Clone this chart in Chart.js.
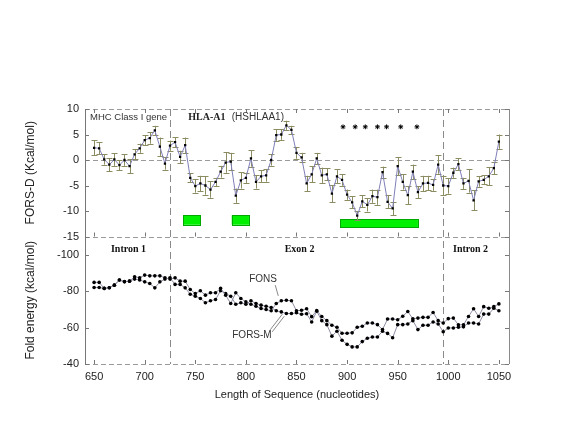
<!DOCTYPE html>
<html>
<head>
<meta charset="utf-8">
<script src="https://cdn.jsdelivr.net/npm/chart.js@4.4.0/dist/chart.umd.min.js"></script>
<style>
  html, body { margin: 0; padding: 0; background: #fff; }
  #wrap { width: 568px; height: 434px; }
</style>
</head>
<body>
<div id="wrap"><canvas id="chart" width="568" height="434"></canvas></div>
<script>
// nucleotide positions (one point every 5 nt)
const positions = [
  650, 655, 660, 665, 670, 675, 680, 685, 690, 695,
  700, 705, 710, 715, 720, 725, 730, 735, 740, 745,
  750, 755, 760, 765, 770, 775, 780, 785, 790, 795,
  800, 805, 810, 815, 820, 825, 830, 835, 840, 845,
  850, 855, 860, 865, 870, 875, 880, 885, 890, 895,
  900, 905, 910, 915, 920, 925, 930, 935, 940, 945,
  950, 955, 960, 965, 970, 975, 980, 985, 990, 995,
  1000, 1005, 1010, 1015, 1020, 1025, 1030, 1035, 1040, 1045,
  1050
];

// FORS-D (Kcal/mol), top panel
const forsD = [
  2.4, 2.3, 0.1, -0.9, 0.1, -1.0, 0.0, -1.2, 1.1, 2.3,
  3.9, 4.3, 5.8, 2.6, -0.7, 2.8, 3.5, 0.6, 2.9, -3.5,
  -5.1, -4.6, -5.0, -5.8, -4.3, -2.3, -0.5, -0.3, -7.0, -4.0,
  -3.5, 0.3, -4.3, -3.2, -3.0, 0.0, 4.9, 5.0, 6.8, 5.9,
  1.4, 0.5, -4.6, -2.8, 0.3, -3.0, -2.8, -6.6, -3.2, -3.9,
  -6.8, -8.3, -10.9, -8.1, -8.8, -7.1, -7.3, -2.4, -8.2, -9.5,
  -1.2, -4.3, -6.9, -2.3, -6.3, -4.6, -4.5, -4.9, -0.9, -5.0,
  -5.1, -2.5, -0.8, -4.6, -4.1, -7.9, -4.2, -3.9, -3.2, -1.6,
  3.6
];
const forsDErr = [
  1.5, 1.15, 1.0, 1.3, 1.25, 1.0, 1.15, 1.4, 1.0, 0.9,
  1.0, 1.1, 0.9, 1.8, 1.2, 1.0, 1.0, 1.2, 1.5, 0.9,
  1.3, 1.5, 1.8, 1.6, 0.8, 1.15, 2.0, 1.7, 1.4, 1.6,
  1.0, 1.6, 1.3, 1.15, 1.25, 1.1, 1.15, 1.05, 0.9, 0.8,
  1.15, 0.9, 1.5, 1.6, 1.1, 1.5, 1.15, 1.7, 1.4, 1.15,
  1.0, 1.15, 0.9, 1.2, 1.3, 1.3, 1.5, 1.1, 1.25, 1.3,
  1.8, 1.5, 1.8, 1.4, 1.15, 1.5, 1.4, 1.15, 1.8, 1.9,
  1.5, 1.0, 1.15, 1.1, 2.3, 2.0, 1.05, 0.9, 1.75, 1.2,
  1.4
];

// fold energies (kcal/mol), bottom panel
const fons = [
  -84.8, -84.8, -81.5, -81.9, -83.3, -86.1, -85.1, -85.5, -87.9, -87.3,
  -88.8, -88.4, -88.4, -88.4, -87.3, -86.6, -87.3, -85.5, -85.5, -80.9,
  -78.7, -80.2, -77.8, -79.1, -79.1, -81.5, -77.8, -73.2, -79.1, -76.0,
  -74.1, -72.8, -71.7, -70.5, -69.9, -69.2, -73.2, -74.7, -75.0, -74.7,
  -69.2, -69.5, -70.3, -66.0, -69.3, -66.1, -63.8, -61.3, -60.2, -56.9,
  -56.9, -57.1, -60.2, -60.7, -62.5, -62.5, -61.6, -58.9, -64.7, -64.7,
  -64.3, -66.2, -68.8, -64.8, -65.2, -65.6, -65.6, -68.3, -63.8, -62.5,
  -64.9, -65.2, -61.5, -61.5, -66.1, -70.3, -66.1, -71.5, -70.6, -71.5,
  -73.0
];
const forsM = [
  -82.0, -82.0, -81.5, -81.9, -83.3, -86.1, -85.3, -85.5, -86.6, -86.1,
  -85.1, -84.2, -81.8, -85.1, -86.6, -87.3, -83.7, -83.7, -81.8, -78.3,
  -77.2, -76.0, -73.6, -74.7, -75.4, -80.2, -78.7, -77.2, -72.8, -73.6,
  -72.8, -74.7, -73.2, -72.3, -71.7, -71.0, -69.2, -68.6, -67.7, -67.7,
  -68.1, -67.3, -67.6, -63.1, -69.0, -63.8, -61.6, -55.3, -58.0, -53.0,
  -50.8, -49.4, -49.4, -52.3, -54.1, -54.8, -54.8, -58.0, -56.8, -54.4,
  -61.6, -61.6, -62.0, -63.8, -58.9, -61.3, -61.3, -63.1, -62.0, -57.7,
  -59.8, -59.8, -60.2, -60.4, -62.5, -62.5, -62.0, -67.4, -67.4, -70.6,
  -69.2
];

// significance stars
const starPositions = [896, 908, 918, 930, 939, 953, 969];
const starLevel = 6.5;

// green boxes (nt start/end, FORS-D top/bottom)
const boxStarts = [738, 786, 893];
const boxEnds = [755, 803, 970];
const boxTops = [-10.8, -10.8, -11.6];
const boxBottoms = [-12.7, -12.7, -13.2];

// intron/exon boundaries
const boundaries = [725, 995];

// tick labels
const xTicks = [650, 700, 750, 800, 850, 900, 950, 1000, 1050];
const topTicks = [10, 5, 0, -5, -10, -15];
const bottomTicks = [-100, -80, -60, -40];

const SANS = "'Liberation Sans', Arial, sans-serif";
const SERIF = "'Liberation Serif', 'Times New Roman', serif";

function toPoints(ys) {
  return positions.map((p, i) => ({ x: p, y: ys[i] }));
}

const decor = {
  id: 'decor',
  beforeDatasetsDraw(chart) {
    const { ctx, chartArea: a, scales } = chart;
    const x = scales.x, yTop = scales.yTop, yBot = scales.yBot;
    ctx.save();

    // dashed frame / zero line
    ctx.strokeStyle = '#9a9a9a';
    ctx.lineWidth = 1;
    ctx.setLineDash([5, 3]);
    [yTop.top, yTop.getPixelForValue(0), yTop.bottom, yBot.bottom].forEach(py => {
      py = Math.round(py) + 0.5;
      ctx.beginPath();
      ctx.moveTo(a.left, py);
      ctx.lineTo(a.right, py);
      ctx.stroke();
    });

    // boundaries
    ctx.strokeStyle = '#8a8a8a';
    ctx.setLineDash([7, 4]);
    boundaries.forEach(b => {
      const px = Math.round(x.getPixelForValue(b)) + 0.5;
      ctx.beginPath();
      ctx.moveTo(px, a.top);
      ctx.lineTo(px, a.bottom);
      ctx.stroke();
    });
    ctx.setLineDash([]);

    // right border
    ctx.strokeStyle = '#8a8a8a';
    ctx.beginPath();
    ctx.moveTo(Math.round(a.right) + 0.5, a.top);
    ctx.lineTo(Math.round(a.right) + 0.5, a.bottom);
    ctx.stroke();

    // inward ticks
    ctx.strokeStyle = '#777';
    topTicks.forEach(t => {
      const py = Math.round(yTop.getPixelForValue(t)) + 0.5;
      ctx.beginPath();
      ctx.moveTo(a.left, py); ctx.lineTo(a.left + 4, py);
      ctx.moveTo(a.right, py); ctx.lineTo(a.right - 4, py);
      ctx.stroke();
    });
    bottomTicks.forEach(t => {
      const py = Math.round(yBot.getPixelForValue(t)) + 0.5;
      ctx.beginPath();
      ctx.moveTo(a.left, py); ctx.lineTo(a.left + 4, py);
      ctx.moveTo(a.right, py); ctx.lineTo(a.right - 4, py);
      ctx.stroke();
    });
    xTicks.forEach(t => {
      const px = Math.round(x.getPixelForValue(t)) + 0.5;
      ctx.beginPath();
      ctx.moveTo(px, yTop.top); ctx.lineTo(px, yTop.top + 4);
      ctx.moveTo(px, yTop.bottom); ctx.lineTo(px, yTop.bottom - 4);
      ctx.moveTo(px, yBot.bottom); ctx.lineTo(px, yBot.bottom - 4);
      ctx.stroke();
    });

    // green boxes
    ctx.fillStyle = '#00f000';
    ctx.strokeStyle = '#00a800';
    boxStarts.forEach((s, i) => {
      const x0 = x.getPixelForValue(s), x1 = x.getPixelForValue(boxEnds[i]);
      const y0 = yTop.getPixelForValue(boxTops[i]), y1 = yTop.getPixelForValue(boxBottoms[i]);
      ctx.fillRect(x0, y0, x1 - x0, y1 - y0);
      ctx.strokeRect(Math.round(x0) + 0.5, Math.round(y0) + 0.5, Math.round(x1 - x0), Math.round(y1 - y0));
    });

    // error bars
    ctx.strokeStyle = '#8c8c62';
    ctx.lineWidth = 1;
    positions.forEach((p, i) => {
      const px = Math.round(x.getPixelForValue(p)) + 0.5;
      const hi = yTop.getPixelForValue(forsD[i] + forsDErr[i]);
      const lo = yTop.getPixelForValue(forsD[i] - forsDErr[i]);
      ctx.beginPath();
      ctx.moveTo(px, hi); ctx.lineTo(px, lo);
      ctx.moveTo(px - 3, Math.round(hi) + 0.5); ctx.lineTo(px + 3, Math.round(hi) + 0.5);
      ctx.moveTo(px - 3, Math.round(lo) + 0.5); ctx.lineTo(px + 3, Math.round(lo) + 0.5);
      ctx.stroke();
    });
    ctx.restore();
  },
  afterDatasetsDraw(chart) {
    const { ctx, scales } = chart;
    const x = scales.x, yTop = scales.yTop, yBot = scales.yBot;
    ctx.save();
    ctx.textBaseline = 'middle';
    const put = (text, font, color, align, nx, py) => {
      ctx.font = font;
      ctx.fillStyle = color;
      ctx.textAlign = align;
      ctx.fillText(text, x.getPixelForValue(nx), py);
    };
    put('MHC Class I gene', '9.5px ' + SANS, '#333', 'left', 646, yTop.getPixelForValue(8.3));
    put('HLA-A1', 'bold 10px ' + SERIF, '#222', 'left', 743, yTop.getPixelForValue(8.3));
    put('(HSHLAA1)', '10px ' + SANS, '#333', 'left', 786, yTop.getPixelForValue(8.3));
    put('Intron 1', 'bold 10px ' + SERIF, '#111', 'center', 684, yBot.getPixelForValue(-103));
    put('Exon 2', 'bold 10px ' + SERIF, '#111', 'center', 853, yBot.getPixelForValue(-103));
    put('Intron 2', 'bold 10px ' + SERIF, '#111', 'center', 1022, yBot.getPixelForValue(-103));
    put('FONS', '10px ' + SANS, '#333', 'center', 817, yBot.getPixelForValue(-86.6));
    put('FORS-M', '10px ' + SANS, '#333', 'center', 806, yBot.getPixelForValue(-55.8));

    // pointer lines
    ctx.strokeStyle = '#888';
    ctx.lineWidth = 1;
    ctx.beginPath();
    ctx.moveTo(x.getPixelForValue(829), yBot.getPixelForValue(-83.3));
    ctx.lineTo(x.getPixelForValue(832), yBot.getPixelForValue(-77.4));
    ctx.stroke();
    [-1, 1].forEach(d => {
      ctx.beginPath();
      ctx.moveTo(x.getPixelForValue(825) + d, yBot.getPixelForValue(-58.2) + d);
      ctx.lineTo(x.getPixelForValue(837) + d, yBot.getPixelForValue(-66.8) + d);
      ctx.stroke();
    });
    ctx.restore();
  }
};

new Chart(document.getElementById('chart'), {
  type: 'line',
  data: {
    datasets: [
      {
        label: 'FORS-D',
        data: toPoints(forsD),
        xAxisID: 'x', yAxisID: 'yTop',
        borderColor: '#7f7fb8',
        borderWidth: 1,
        pointStyle: 'rect',
        pointRadius: 1.6,
        pointBorderWidth: 0,
        pointBackgroundColor: '#000',
        tension: 0
      },
      {
        label: 'stars',
        data: starPositions.map(p => ({ x: p, y: starLevel })),
        xAxisID: 'x', yAxisID: 'yTop',
        showLine: false,
        pointStyle: 'star',
        pointRadius: 2.4,
        pointBorderWidth: 1,
        pointBorderColor: '#000',
        pointBackgroundColor: '#000'
      },
      {
        label: 'FONS',
        data: toPoints(fons),
        xAxisID: 'x', yAxisID: 'yBot',
        borderColor: '#8e8ea6',
        borderWidth: 1,
        pointRadius: 1.8,
        pointBorderWidth: 0,
        pointBackgroundColor: '#000',
        tension: 0
      },
      {
        label: 'FORS-M',
        data: toPoints(forsM),
        xAxisID: 'x', yAxisID: 'yBot',
        borderColor: '#8e8ea6',
        borderWidth: 1,
        pointRadius: 1.8,
        pointBorderWidth: 0,
        pointBackgroundColor: '#000',
        tension: 0
      }
    ]
  },
  options: {
    responsive: false,
    animation: false,
    layout: { padding: { top: 109, right: 59, bottom: 0, left: 0 } },
    plugins: { legend: { display: false }, tooltip: { enabled: false } },
    scales: {
      x: {
        type: 'linear',
        min: 641, max: 1060,
        grid: { display: false, drawTicks: false },
        border: { display: false },
        afterBuildTicks: s => { s.ticks = xTicks.map(v => ({ value: v })); },
        afterFit: s => { s.height = 70; },
        ticks: {
          font: { family: SANS, size: 11 }, color: '#222', padding: 6, maxRotation: 0,
          callback: v => String(v)
        },
        title: {
          display: true, text: 'Length of Sequence (nucleotides)',
          font: { family: SANS, size: 11 }, color: '#222',
          padding: { top: 0, bottom: 32 }
        }
      },
      yBot: {
        type: 'linear', position: 'left',
        stack: 'panels', stackWeight: 1, weight: 0,
        min: -110, max: -40, reverse: true,
        grid: { display: false, drawTicks: false },
        border: { display: true, color: '#777', width: 1 },
        afterBuildTicks: s => { s.ticks = bottomTicks.map(v => ({ value: v })); },
        afterFit: s => { s.width = 85; },
        ticks: { font: { family: SANS, size: 11 }, color: '#222', padding: 6 },
        title: {
          display: true, text: 'Fold energy (kcal/mol)',
          font: { family: SANS, size: 12 }, color: '#222',
          padding: { top: 23, bottom: 0 }
        }
      },
      yTop: {
        type: 'linear', position: 'left',
        stack: 'panels', stackWeight: 1, weight: 1,
        min: -15, max: 10,
        grid: { display: false, drawTicks: false },
        border: { display: true, color: '#777', width: 1 },
        afterBuildTicks: s => { s.ticks = topTicks.map(v => ({ value: v })); },
        afterFit: s => { s.width = 85; },
        ticks: { font: { family: SANS, size: 11 }, color: '#222', padding: 6 },
        title: {
          display: true, text: 'FORS-D (Kcal/mol)',
          font: { family: SANS, size: 12 }, color: '#222',
          padding: { top: 23, bottom: 0 }
        }
      }
    }
  },
  plugins: [decor]
});
</script>
</body>
</html>
